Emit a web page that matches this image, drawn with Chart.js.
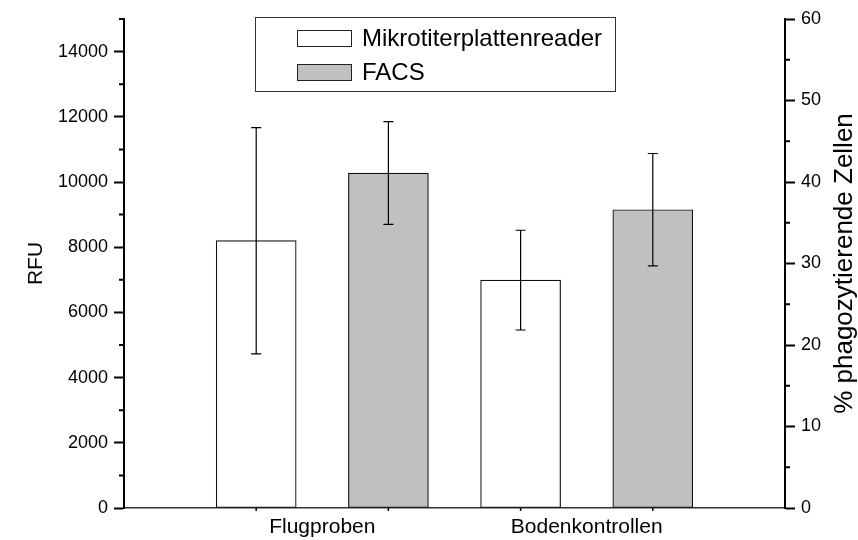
<!DOCTYPE html>
<html>
<head>
<meta charset="utf-8">
<script src="https://cdn.jsdelivr.net/npm/chart.js@4.4.1/dist/chart.umd.min.js"></script>
<style>
  html, body { margin: 0; padding: 0; background: #fff; }
  #myChart { display: block; }
</style>
</head>
<body>
<canvas id="myChart" width="858" height="540"></canvas>
<script>
// categories and their position on the x axis
const categories = ['Flugproben', 'Bodenkontrollen'];
const categoryPos = [1.5, 3.5];

// bar positions
const readerPos = [1, 3];
const facsPos = [2, 4];

// Mikrotiterplattenreader (RFU, left axis)
const readerValues = [8200, 6990];
const readerErrors = [3470, 1530];

// FACS (% phagozytierende Zellen, right axis)
const facsValues = [41.1, 36.6];
const facsErrors = [6.3, 6.9];

// tick labels
const rfuTicks = [0, 2000, 4000, 6000, 8000, 10000, 12000, 14000];
const rfuMinor = [1000, 3000, 5000, 7000, 9000, 11000, 13000, 15000];
const pctTicks = [0, 10, 20, 30, 40, 50, 60];
const pctMinor = [5, 15, 25, 35, 45, 55];
const xMinor = [1, 2, 3, 4];

const FONT = '"Liberation Sans", Arial, sans-serif';

function drawDiagram() {
  const ctx = document.getElementById('myChart').getContext('2d');

  const errorBars = {
    id: 'errorBars',
    afterDatasetsDraw(chart) {
      const c = chart.ctx;
      const xs = chart.scales.x;
      c.save();
      c.strokeStyle = '#000';
      c.lineWidth = 1.2;
      chart.data.datasets.forEach((ds) => {
        const ys = chart.scales[ds.yAxisID];
        ds.data.forEach((pt, i) => {
          const px = xs.getPixelForValue(pt.x);
          const top = ys.getPixelForValue(pt.y + ds.errors[i]);
          const bot = ys.getPixelForValue(pt.y - ds.errors[i]);
          c.beginPath();
          c.moveTo(px, top); c.lineTo(px, bot);
          c.moveTo(px - 5, top); c.lineTo(px + 5, top);
          c.moveTo(px - 5, bot); c.lineTo(px + 5, bot);
          c.stroke();
        });
      });
      c.restore();
    }
  };

  const minorTicks = {
    id: 'minorTicks',
    afterDraw(chart) {
      const c = chart.ctx;
      const {x, y, y1} = chart.scales;
      c.save();
      c.strokeStyle = '#000';
      c.lineWidth = 2;
      c.beginPath();
      rfuMinor.forEach(v => {
        const py = y.getPixelForValue(v);
        c.moveTo(y.right, py); c.lineTo(y.right - 5, py);
      });
      pctMinor.forEach(v => {
        const py = y1.getPixelForValue(v);
        c.moveTo(y1.left, py); c.lineTo(y1.left + 5, py);
      });
      c.stroke();
      c.lineWidth = 1.5;
      c.beginPath();
      xMinor.forEach(v => {
        const px = x.getPixelForValue(v);
        c.moveTo(px, x.top); c.lineTo(px, x.top + 3);
      });
      c.stroke();

      // right axis title, reading bottom to top
      const area = chart.chartArea;
      c.translate(852, (area.top + area.bottom) / 2);
      c.rotate(-Math.PI / 2);
      c.font = '26px ' + FONT;
      c.fillStyle = '#000';
      c.textAlign = 'center';
      c.textBaseline = 'alphabetic';
      c.fillText('% phagozytierende Zellen', 0, 0);
      c.restore();
    }
  };

  // legend box inside the plot
  const boxLegend = {
    id: 'boxLegend',
    afterDraw(chart) {
      const c = chart.ctx;
      const left = 255, top = 17, w = 360, h = 74;
      c.save();
      c.fillStyle = '#fff';
      c.fillRect(left, top, w, h);
      c.strokeStyle = '#333';
      c.lineWidth = 1;
      c.strokeRect(left + 0.5, top + 0.5, w, h);
      c.font = '24px ' + FONT;
      c.textBaseline = 'middle';
      chart.data.datasets.forEach((ds, i) => {
        const cy = top + 21 + i * 34;
        c.fillStyle = ds.backgroundColor;
        c.fillRect(left + 42, cy - 8, 55, 17);
        c.strokeStyle = '#222';
        c.strokeRect(left + 42.5, cy - 7.5, 54, 16);
        c.fillStyle = '#000';
        c.fillText(ds.label, left + 107, cy + 1);
      });
      c.restore();
    }
  };

  const data = {
    datasets: [
      {
        label: 'Mikrotiterplattenreader',
        data: readerPos.map((p, i) => ({x: p, y: readerValues[i]})),
        errors: readerErrors,
        yAxisID: 'y',
        backgroundColor: '#ffffff',
        borderColor: '#111',
        borderWidth: 1.2,
        borderSkipped: false,
        barThickness: 80,
        grouped: false,
      },
      {
        label: 'FACS',
        data: facsPos.map((p, i) => ({x: p, y: facsValues[i]})),
        errors: facsErrors,
        yAxisID: 'y1',
        backgroundColor: '#c0c0c0',
        borderColor: '#111',
        borderWidth: 1.2,
        borderSkipped: false,
        barThickness: 80,
        grouped: false,
      }
    ]
  };

  const config = {
    type: 'bar',
    data: data,
    options: {
      responsive: false,
      animation: false,
      layout: { padding: { top: 19, left: 0, right: 0, bottom: 0 } },
      plugins: {
        legend: { display: false },
        tooltip: { enabled: false },
      },
      scales: {
        x: {
          type: 'linear',
          min: 0,
          max: 5,
          offset: false,
          afterBuildTicks: (scale) => {
            scale.ticks = categoryPos.map(v => ({value: v}));
          },
          afterFit: (scale) => { scale.height = 32; },
          ticks: {
            font: { size: 21 },
            padding: 7,
            maxRotation: 0,
            callback: (v) => {
              const i = categoryPos.indexOf(v);
              return i >= 0 ? categories[i] : '';
            }
          },
          grid: { display: false, drawTicks: false },
          border: { display: true, color: '#333', width: 1.5 },
        },
        y: {
          type: 'linear',
          position: 'left',
          min: 0,
          max: 15000,
          afterBuildTicks: (scale) => {
            scale.ticks = rfuTicks.map(v => ({value: v}));
          },
          afterFit: (scale) => { scale.width = 124; },
          ticks: { font: { size: 18 }, padding: 6, callback: (v) => String(v) },
          grid: { drawOnChartArea: false, tickLength: 10, tickWidth: 2, tickColor: '#000' },
          border: { display: true, color: '#000', width: 2 },
          title: {
            display: true,
            text: 'RFU',
            font: { size: 21 },
            padding: { top: 24, bottom: 0 },
          },
        },
        y1: {
          type: 'linear',
          position: 'right',
          min: 0,
          max: 60,
          afterBuildTicks: (scale) => {
            scale.ticks = pctTicks.map(v => ({value: v}));
          },
          afterFit: (scale) => { scale.width = 73; },
          ticks: { font: { size: 18 }, padding: 6, callback: (v) => String(v) },
          grid: { drawOnChartArea: false, tickLength: 10, tickWidth: 2, tickColor: '#000' },
          border: { display: true, color: '#000', width: 2 },
          title: { display: false },
        },
      }
    },
    plugins: [errorBars, minorTicks, boxLegend],
  };

  Chart.defaults.font.family = FONT;
  Chart.defaults.color = '#000';
  return new Chart(ctx, config);
}

drawDiagram();
</script>
</body>
</html>
